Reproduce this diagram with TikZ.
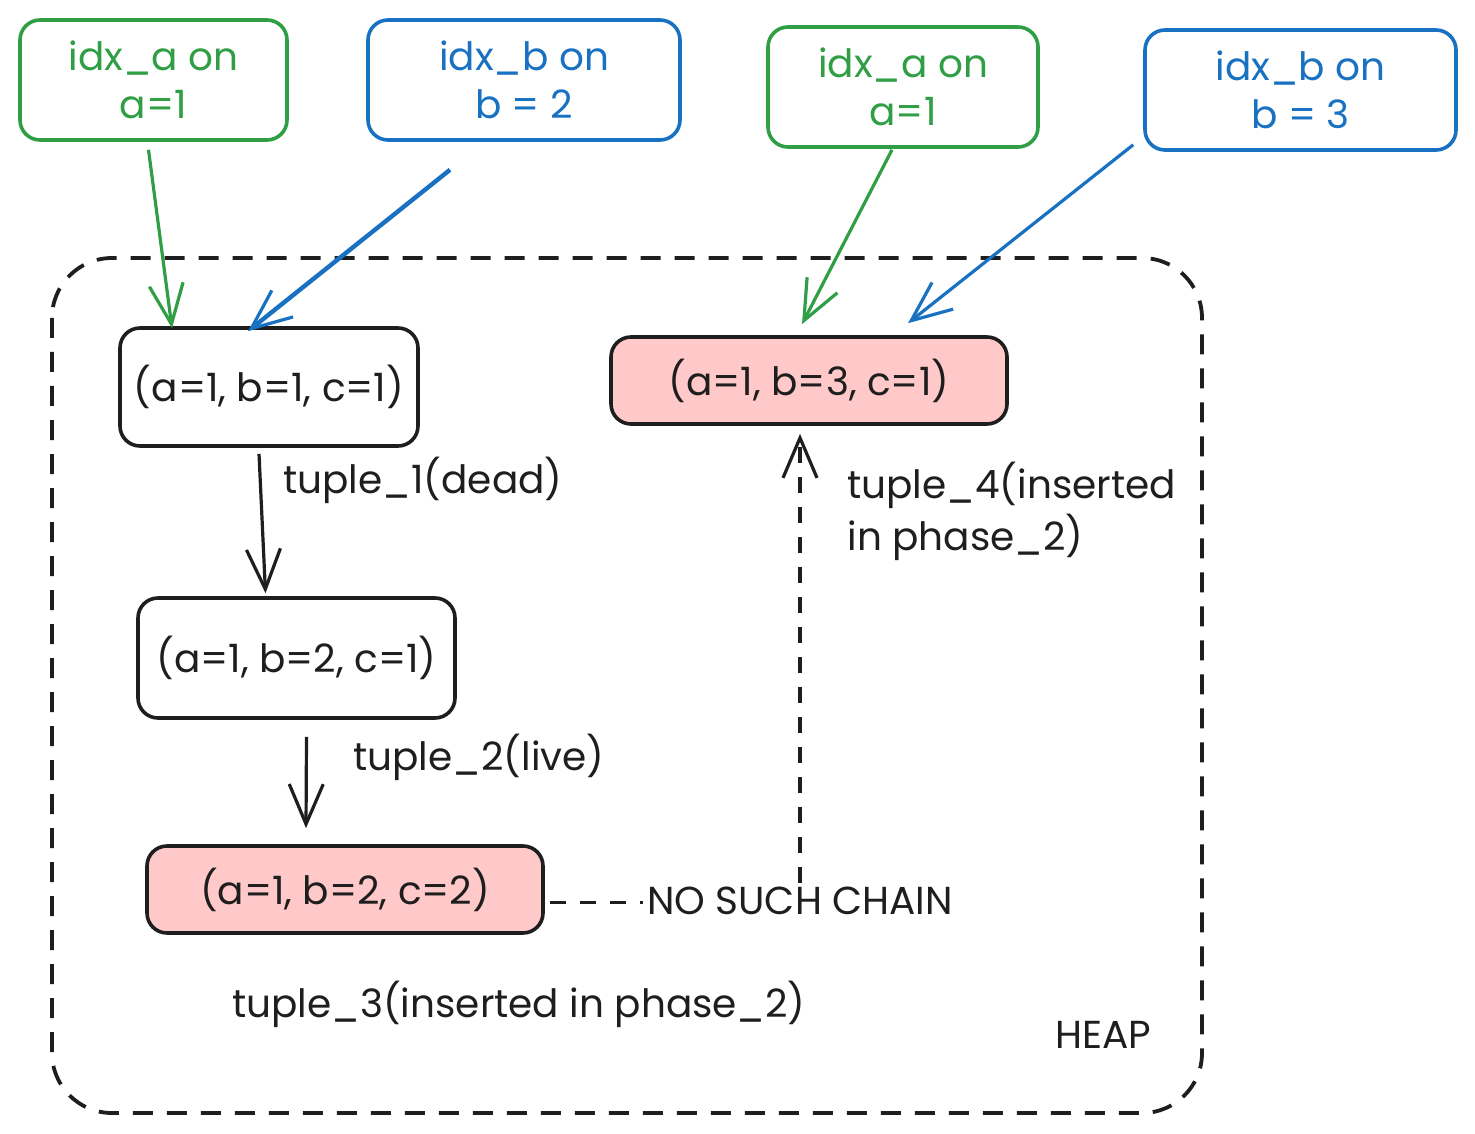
\documentclass[tikz,border=0pt]{standalone}
\usepackage{fontspec}
\setmainfont{Poppins}
\usetikzlibrary{arrows.meta,calc}
\definecolor{xgreen}{HTML}{2F9E44}
\definecolor{xblue}{HTML}{1971C2}
\definecolor{xpink}{HTML}{FFC9C9}
\definecolor{xink}{HTML}{1E1E1E}
\begin{document}
\begin{tikzpicture}[x=0.5pt,y=-0.5pt, font=\fontsize{19.5}{24}\selectfont,
  box/.style={draw=xink, line width=1.8pt, rounded corners=10pt, inner sep=0pt, align=center, text=xink},
  idxg/.style={box, draw=xgreen, text=xgreen},
  idxb/.style={box, draw=xblue, text=xblue},
  arr/.style={-{Straight Barb[length=20pt,width=17pt,line width=1.6pt]}, line width=1.6pt},
  lbl/.style={anchor=west, text=xink, inner sep=0pt}]
\useasboundingbox (0,0) rectangle (1475,1133);
% heap frame
\draw[xink, line width=1.9pt, dash pattern=on 10pt off 7pt, rounded corners=30pt] (52,258) rectangle (1202,1113);
% index boxes
\node[idxg, minimum width=133.5pt, minimum height=60pt] (ga1) at (153.5,80) {idx\_a on\\a=1};
\node[idxb, minimum width=156pt, minimum height=60pt] (bb1) at (524,80) {idx\_b on\\b = 2};
\node[idxg, minimum width=135pt, minimum height=60pt] (ga2) at (903,87) {idx\_a on\\a=1};
\node[idxb, minimum width=155.5pt, minimum height=60pt] (bb2) at (1300.5,90) {idx\_b on\\b = 3};
% tuples
\node[box, minimum width=149pt, minimum height=59pt] (t1) at (269,387) {(a=1, b=1, c=1)};
\node[box, fill=xpink, minimum width=198pt, minimum height=43.5pt] (t4) at (809,380.5) {(a=1, b=3, c=1)};
\node[box, minimum width=158.5pt, minimum height=60pt] (t2) at (296.5,658) {(a=1, b=2, c=1)};
\node[box, fill=xpink, minimum width=198pt, minimum height=43.5pt] (t3) at (345,889.5) {(a=1, b=2, c=2)};
% labels
\node[lbl] (l1) at (283,480) {tuple\_1(dead)};
\node[lbl] (l2) at (353,757) {tuple\_2(live)};
\node[lbl] (l3) at (232,1004) {tuple\_3(inserted in phase\_2)};
\node[lbl, align=left, font=\fontsize{19.5}{26}\selectfont] (l4) at (847,511) {tuple\_4(inserted\\in phase\_2)};
\node[text=xink] (heap) at (1103,1035) {HEAP};
% index arrows
\draw[arr, xgreen] ($(ga1.south)+(-5,8)$) -- ($(t1.north)+(-97,2)$);
\draw[arr, xblue, line width=2.2pt] ($(bb1.south)+(-74,28)$) -- ($(t1.north)+(-21,5)$);
\draw[arr, xgreen] ($(ga2.south)+(-11,1)$) -- ($(t4.north)+(-7,-11)$);
\draw[arr, xblue] ($(bb2.south west)+(-10,-7)$) -- ($(t4.north)+(99,-12)$);
% chain arrows
\draw[arr, xink] ($(t1.south)+(-10,6)$) -- ($(t2.north)+(-31,-3)$);
\draw[arr, xink] ($(t2.south)+(10,17)$) -- ($(t3.north)+(-39,-16)$);
% no such chain
\coordinate (nsc) at ($(t4.south)+(-9,8)$);
\draw[arr, xink, dash pattern=on 8pt off 7pt] ($(t3.east)+(5,13)$) -| (nsc);
\node[fill=white, text=xink, inner sep=2pt] (nolabel) at (800,901) {NO SUCH CHAIN};
\end{tikzpicture}
\end{document}
